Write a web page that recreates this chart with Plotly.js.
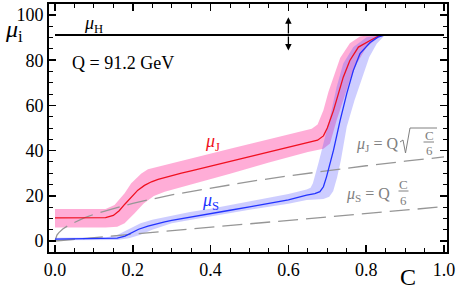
<!DOCTYPE html>
<html><head><meta charset="utf-8">
<script src="https://cdn.plot.ly/plotly-3.0.1.min.js"></script>
<style>html,body{margin:0;padding:0;background:#fff}#plot{width:457px;height:289px}</style>
</head><body><div id="plot"></div>
<script>
// ---- data ----
const Q = 91.2;
const hC = [0, 1];
const hY = [91.2, 91.2];

const C_J = [0, 0.05, 0.10, 0.13, 0.15, 0.165, 0.18, 0.20, 0.213, 0.23, 0.248, 0.265, 0.282, 0.30, 0.325, 0.35, 0.40, 0.45, 0.50, 0.55, 0.60, 0.65, 0.675, 0.69, 0.70, 0.716, 0.728, 0.741, 0.758, 0.78, 0.81, 0.83, 0.845];
const muJ = [10.2, 10.2, 10.2, 10.3, 11.3, 13.4, 16.4, 20.0, 22.5, 24.6, 26.2, 27.3, 28.1, 29.0, 30.0, 31.0, 33.1, 35.2, 37.2, 39.2, 41.3, 43.3, 44.6, 46.5, 50.0, 57.8, 65.2, 72.5, 79.9, 85.8, 88.7, 90.5, 91.2];

const C_S = [0, 0.05, 0.10, 0.14, 0.16, 0.18, 0.196, 0.215, 0.239, 0.26, 0.282, 0.30, 0.325, 0.35, 0.40, 0.45, 0.50, 0.55, 0.60, 0.647, 0.668, 0.681, 0.69, 0.698, 0.707, 0.716, 0.733, 0.75, 0.767, 0.784, 0.81, 0.83, 0.848];
const muS = [0.8, 0.9, 0.9, 1.0, 1.3, 2.2, 3.5, 5.2, 6.6, 7.6, 8.5, 9.1, 9.8, 10.6, 12.1, 13.6, 15.1, 16.6, 18.2, 20.3, 21.0, 21.8, 24.0, 28.4, 34.0, 40.2, 53.4, 65.2, 75.5, 82.9, 87.8, 90.2, 91.2];

const bandJ_upC = [0, 0.13, 0.153, 0.179, 0.196, 0.222, 0.239, 0.282, 0.325, 0.368, 0.45, 0.55, 0.63, 0.66, 0.675, 0.69, 0.703, 0.716, 0.733, 0.758, 0.784, 0.81, 0.845];
const bandJ_up  = [14.2, 14.2, 15.9, 21.1, 25.5, 29.9, 31.7, 33.6, 35.5, 37.3, 40.8, 45.0, 48.4, 49.7, 51.5, 57.9, 66.0, 72.7, 81.0, 87.5, 90.5, 91.2, 91.2];
const bandJ_loC = [0, 0.13, 0.16, 0.179, 0.204, 0.228, 0.254, 0.282, 0.325, 0.368, 0.45, 0.55, 0.60, 0.65, 0.69, 0.707, 0.724, 0.741, 0.758, 0.776, 0.801, 0.827, 0.845];
const bandJ_lo  = [6.0, 6.0, 6.3, 7.8, 12.2, 16.6, 19.9, 21.8, 24.0, 25.8, 29.8, 34.7, 37.2, 39.4, 40.8, 43.1, 53.4, 62.3, 71.1, 78.5, 85.8, 89.5, 91.2];

const bandS_upC = [0, 0.13, 0.16, 0.19, 0.22, 0.25, 0.30, 0.347, 0.40, 0.50, 0.60, 0.647, 0.657, 0.663, 0.668, 0.678, 0.69, 0.707, 0.724, 0.741, 0.767, 0.801, 0.848];
const bandS_up  = [1.4, 1.5, 2.6, 5.2, 7.8, 9.4, 11.2, 12.8, 14.3, 17.5, 20.8, 22.8, 23.6, 25.5, 28.4, 35.0, 43.1, 54.9, 68.1, 78.5, 85.8, 90.2, 91.2];
const bandS_loC = [0, 0.13, 0.16, 0.19, 0.22, 0.25, 0.30, 0.347, 0.40, 0.50, 0.60, 0.647, 0.69, 0.705, 0.715, 0.725, 0.735, 0.75, 0.77, 0.79, 0.808, 0.827, 0.848];
const bandS_lo  = [0.3, 0.4, 0.4, 1.2, 2.8, 5.0, 7.8, 9.3, 11.0, 13.8, 16.5, 18.1, 18.6, 19.6, 22.0, 28.0, 35.8, 50.5, 62.3, 72.5, 81.4, 87.3, 91.2];

const C_canonJ = [0, 0.005, 0.01, 0.02, 0.035, 0.05, 0.075, 0.1, 0.15, 0.2, 0.3, 0.4, 0.5, 0.6, 0.7, 0.8, 0.9, 1.0];
const canonJ   = [0, 2.6, 3.7, 5.3, 7.0, 8.3, 10.2, 11.8, 14.4, 16.7, 20.4, 23.5, 26.3, 28.8, 31.2, 33.3, 35.3, 37.2];
const C_canonS = [0, 0.5, 1.0];
const canonS   = [0, 7.6, 15.2];

// ---- helpers ----
function poly(upC, up, loC, lo) {
  return { x: upC.concat(loC.slice().reverse()), y: up.concat(lo.slice().reverse()) };
}
const pJ = poly(bandJ_upC, bandJ_up, bandJ_loC, bandJ_lo);
const pS = poly(bandS_upC, bandS_up, bandS_loC, bandS_lo);

const serif = "'Liberation Serif'";
const gray = "rgb(128,128,128)";
const dashGray = "rgb(150,150,150)";

const traces = [
  {x: pJ.x, y: pJ.y, type: 'scatter', mode: 'lines', fill: 'toself', fillcolor: 'rgba(255,60,160,0.42)', line: {width: 0}, hoverinfo: 'skip'},
  {x: pS.x, y: pS.y, type: 'scatter', mode: 'lines', fill: 'toself', fillcolor: 'rgba(90,90,255,0.30)', line: {width: 0}, hoverinfo: 'skip'},
  {x: C_canonJ, y: canonJ, type: 'scatter', mode: 'lines', line: {color: dashGray, width: 1.3, dash: '20px,8px'}},
  {x: C_canonS, y: canonS, type: 'scatter', mode: 'lines', line: {color: dashGray, width: 1.3, dash: '20px,8px'}},
  {x: C_J, y: muJ, type: 'scatter', mode: 'lines', line: {color: '#f01020', width: 1.3}},
  {x: C_S, y: muS, type: 'scatter', mode: 'lines', line: {color: '#2233ff', width: 1.3}},
  {x: hC, y: hY, type: 'scatter', mode: 'lines', line: {color: 'black', width: 2}}
];

// pixel -> data helpers for decorations
const X0 = 55, XS = 389, Y0 = 241, YS = 2.26;
const dx = px => (px - X0) / XS;
const dy = py => (Y0 - py) / YS;
const PL = 49, PW = 398, PT = 4, PH = 248;
const pxp = px => (px - PL) / PW;
const pyp = py => (PT + PH - py) / PH;

const ann = [];
function txt(t, px, py, size, color, xanchor) {
  ann.push({x: dx(px), y: dy(py), xref: 'x', yref: 'y', text: t, showarrow: false,
    font: {family: serif, size: size, color: color}, xanchor: xanchor || 'center', yanchor: 'middle'});
}
txt('<i>μ</i><sub>H</sub>', 93, 24, 18, 'black');
txt('Q = 91.2 GeV', 70, 63, 18, 'black', 'left');
txt('<i>μ</i><sub>J</sub>', 212, 142, 18, '#f01020');
txt('<i>μ</i><sub>S</sub>', 210, 201, 18, '#2233ff');
txt('<i>μ</i><sub>J</sub> = Q', 400, 144, 16, gray, 'right');
txt('C', 429, 135, 13, gray);
txt('6', 429, 150, 13, gray);
txt('<i>μ</i><sub>S</sub> = Q', 392, 194, 16, gray, 'right');
txt('C', 403.5, 184, 13, gray);
txt('6', 403.5, 200, 13, gray);

// axis titles
ann.push({x: pxp(14), y: pyp(31), xref: 'paper', yref: 'paper', text: '<i>μ</i><sub>i</sub>', showarrow: false,
  font: {family: serif, size: 24, color: 'black'}, xanchor: 'center', yanchor: 'middle'});
ann.push({x: pxp(408), y: pyp(277), xref: 'paper', yref: 'paper', text: 'C', showarrow: false,
  font: {family: serif, size: 24, color: 'black'}, xanchor: 'center', yanchor: 'middle'});

// double arrow
const arrowC = 0.6;
[99.0, 84.3].forEach(tip => ann.push({x: arrowC, y: tip, ax: arrowC, ay: Q, xref: 'x', yref: 'y', axref: 'x', ayref: 'y',
  text: '', showarrow: true, arrowhead: 2, arrowsize: 1, arrowwidth: 1.3, arrowcolor: 'black', standoff: 0, startstandoff: 0}));

const shapes = [
  {type: 'path', xref: 'x', yref: 'y', path: `M ${dx(400)},${dy(142)} L ${dx(403)},${dy(140)} L ${dx(405.5)},${dy(153)} L ${dx(410)},${dy(128)} L ${dx(437)},${dy(128)}`,
   line: {color: gray, width: 1}},
  {type: 'line', xref: 'x', yref: 'y', x0: dx(423.5), x1: dx(434), y0: dy(142), y1: dy(142), line: {color: gray, width: 1}},
  {type: 'line', xref: 'x', yref: 'y', x0: dx(398.5), x1: dx(408.5), y0: dy(191), y1: dy(191), line: {color: gray, width: 1}}
];

const axisCommon = {
  showline: true, linewidth: 2, linecolor: 'black', mirror: 'allticks',
  ticks: 'inside', ticklen: 7, tickwidth: 1.5, tickcolor: 'black',
  showgrid: false, zeroline: false,
  tickfont: {family: serif, size: 18, color: 'black'}
};

const layout = {
  width: 457, height: 289,
  margin: {l: PL, r: 457 - PL - PW, t: PT, b: 289 - PT - PH},
  paper_bgcolor: 'white', plot_bgcolor: 'white',
  showlegend: false,
  font: {family: serif, color: 'black'},
  xaxis: Object.assign({}, axisCommon, {range: [dx(49), dx(447)], tickmode: 'linear', tick0: 0, dtick: 0.2, tickformat: '.1f',
    minor: {tickmode: 'linear', tick0: 0, dtick: 0.05, ticks: 'inside', ticklen: 4, tickwidth: 1, tickcolor: 'black'}}),
  yaxis: Object.assign({}, axisCommon, {range: [dy(252), dy(4)], tickmode: 'linear', tick0: 0, dtick: 20,
    minor: {tickmode: 'linear', tick0: 0, dtick: 5, ticks: 'inside', ticklen: 4, tickwidth: 1, tickcolor: 'black'}}),
  annotations: ann,
  shapes: shapes
};

Plotly.newPlot('plot', traces, layout, {staticPlot: true, displayModeBar: false});
</script>
</body></html>
